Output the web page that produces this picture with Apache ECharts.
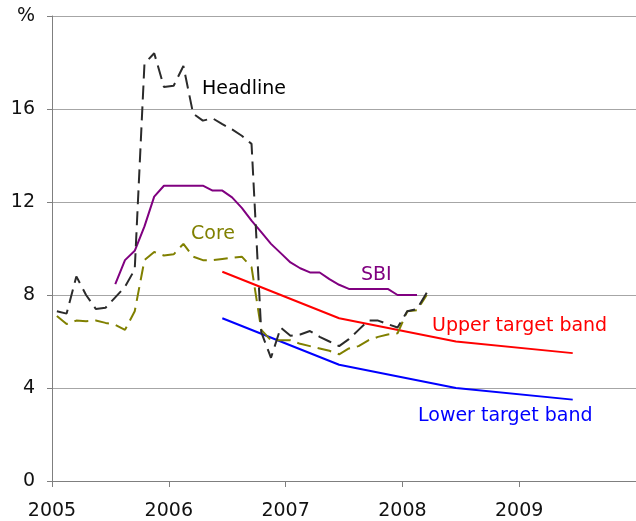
<!DOCTYPE html>
<html>
<head>
<meta charset="utf-8">
<script src="https://cdn.jsdelivr.net/npm/echarts@6/dist/echarts.min.js"></script>
<style>
  html, body { margin: 0; padding: 0; background: #fff; }
  #chart { width: 636px; height: 521px; }
</style>
</head>
<body>
<div id="chart"></div>
<script>
// monthly observations, Jan 2005 .. Mar 2008
const months = [
  '2005-01', '2005-02', '2005-03', '2005-04', '2005-05', '2005-06', '2005-07', '2005-08', '2005-09', '2005-10', '2005-11', '2005-12',
  '2006-01', '2006-02', '2006-03', '2006-04', '2006-05', '2006-06', '2006-07', '2006-08', '2006-09', '2006-10', '2006-11', '2006-12',
  '2007-01', '2007-02', '2007-03', '2007-04', '2007-05', '2007-06', '2007-07', '2007-08', '2007-09', '2007-10', '2007-11', '2007-12',
  '2008-01', '2008-02', '2008-03'
]
const headline = [
  7.3, 7.2, 8.8, 8.0, 7.4, 7.45, 7.9, 8.35, 9.1, 17.95, 18.4, 16.95,
  17.0, 17.85, 15.8, 15.5, 15.6, 15.35, 15.12, 14.85, 14.5, 6.4, 5.3, 6.6,
  6.25, 6.3, 6.45, 6.2, 6.0, 5.8, 6.1, 6.5, 6.9, 6.9, 6.75, 6.6,
  7.3, 7.4, 8.1
]
const core = [
  7.1, 6.75, 6.9, 6.87, 6.9, 6.8, 6.72, 6.5, 7.3, 9.5, 9.85, 9.7,
  9.75, 10.2, 9.65, 9.5, 9.5, 9.55, 9.6, 9.65, 9.2, 6.5, 6.05, 6.05,
  6.05, 5.9, 5.8, 5.7, 5.6, 5.45, 5.7, 5.8, 6.05, 6.2, 6.3, 6.35,
  7.3, 7.35, 8.0
]
const sbi = [
  null, null, null, null, null, null, 8.47, 9.5, 9.9, 10.95, 12.23, 12.7,
  12.7, 12.7, 12.7, 12.7, 12.49, 12.49, 12.2, 11.75, 11.2, 10.7, 10.2, 9.8,
  9.4, 9.15, 8.97, 8.97, 8.68, 8.44, 8.26, 8.26, 8.26, 8.26, 8.26, 8.0,
  8.0, 8.0, null
]
// target bands, set each June
const targetMonths = ['2006-06', '2007-06', '2008-06', '2009-06']
const upperBand = [9, 7, 6, 5.5]
const lowerBand = [7, 5, 4, 3.5]

const yTicks = [0, 4, 8, 12, 16, 20]

function toYear(m) {
  const p = m.split('-')
  return +p[0] + (+p[1] - 0.5) / 12
}
function pairs(ms, vals) {
  return ms.map((m, i) => [toYear(m), vals[i]])
}

const font = 'DejaVu Sans, Verdana, sans-serif'
const chart = echarts.init(document.getElementById('chart'))

function label(text, x, y, color) {
  return {
    type: 'text',
    left: x,
    top: y,
    style: { text: text, fill: color, font: '19px ' + font }
  }
}

chart.setOption({
  animation: false,
  grid: { left: 52, right: -6, top: 16, bottom: 39 },
  xAxis: {
    type: 'value',
    min: 2005,
    max: 2010,
    interval: 1,
    axisLine: { show: true, lineStyle: { color: '#7f7f7f', width: 1 } },
    axisTick: { show: true, length: 6, lineStyle: { color: '#7f7f7f' } },
    splitLine: { show: false },
    axisLabel: {
      margin: 21,
      color: '#111',
      fontFamily: font,
      fontSize: 19,
      showMaxLabel: false,
      formatter: v => (v >= 2010 ? '' : String(v))
    }
  },
  yAxis: {
    type: 'value',
    min: yTicks[0],
    max: yTicks[yTicks.length - 1],
    interval: 4,
    axisLine: { show: true, lineStyle: { color: '#7f7f7f', width: 1 } },
    axisTick: { show: true, length: 5, lineStyle: { color: '#7f7f7f' } },
    splitLine: { show: true, lineStyle: { color: '#a6a6a6', width: 1 } },
    axisLabel: {
      margin: 17,
      color: '#111',
      fontFamily: font,
      fontSize: 19,
      formatter: v => (v === 20 ? '%' : String(v))
    }
  },
  series: [
    {
      name: 'Upper target band',
      type: 'line',
      data: pairs(targetMonths, upperBand),
      showSymbol: false,
      lineStyle: { color: '#ff0000', width: 2 }
    },
    {
      name: 'Lower target band',
      type: 'line',
      data: pairs(targetMonths, lowerBand),
      showSymbol: false,
      lineStyle: { color: '#0000ff', width: 2 }
    },
    {
      name: 'SBI',
      type: 'line',
      data: pairs(months, sbi),
      showSymbol: false,
      lineStyle: { color: '#800080', width: 2 }
    },
    {
      name: 'Core',
      type: 'line',
      data: pairs(months, core),
      showSymbol: false,
      lineStyle: { color: '#808000', width: 2, type: [14, 7] }
    },
    {
      name: 'Headline',
      type: 'line',
      data: pairs(months, headline),
      showSymbol: false,
      lineStyle: { color: '#2b2b2b', width: 2, type: [14, 7] }
    }
  ],
  graphic: [
    label('Headline', 202, 80, '#000'),
    label('Core', 191, 225, '#808000'),
    label('SBI', 361, 266, '#800080'),
    label('Upper target band', 432, 317, '#ff0000'),
    label('Lower target band', 418, 407, '#0000ff')
  ]
})
</script>
</body>
</html>
